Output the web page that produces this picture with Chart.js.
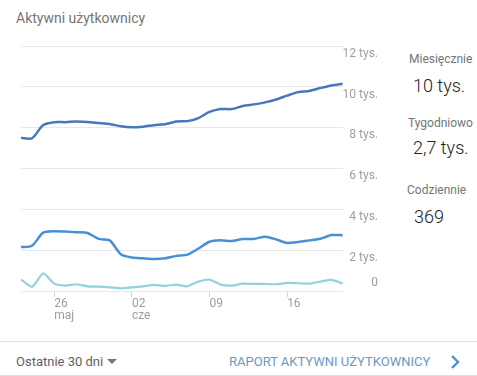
<!DOCTYPE html>
<html><head><meta charset="utf-8">
<script src="https://cdn.jsdelivr.net/npm/chart.js@4.4.1/dist/chart.umd.min.js"></script>
<style>
html,body{margin:0;padding:0;background:#fff;width:477px;height:376px;overflow:hidden;font-family:Roboto,"Noto Sans",sans-serif;}
.abs{position:absolute;white-space:nowrap;}
#wrap{position:absolute;left:0;top:0;width:380px;height:330px;}
.lbl{font-size:12px;color:#757575;line-height:16px;}
.val{font-size:18px;font-weight:300;color:#212121;line-height:22px;}
</style></head>
<body>
<div class="abs" style="left:16px;top:8px;font-size:14px;line-height:20px;color:#757575;">Aktywni użytkownicy</div>
<div id="wrap"><canvas id="c"></canvas></div>

<div class="abs lbl" style="left:409px;top:51px;">Miesięcznie</div>
<div class="abs val" style="left:413px;top:75px;">10 tys.</div>
<div class="abs lbl" style="left:408px;top:115px;">Tygodniowo</div>
<div class="abs val" style="left:413px;top:137px;">2,7 tys.</div>
<div class="abs lbl" style="left:407px;top:182px;">Codziennie</div>
<div class="abs val" style="left:414px;top:206px;">369</div>

<div class="abs" style="left:0;top:341px;width:477px;height:1px;background:#e0e0e0;"></div>
<div class="abs" style="left:16px;top:353px;font-size:13px;line-height:18px;color:#616161;">Ostatnie 30 dni</div>
<div class="abs" style="left:107px;top:359px;width:0;height:0;border-left:5px solid transparent;border-right:5px solid transparent;border-top:5px solid #757575;"></div>
<div class="abs" style="left:229px;top:353px;font-size:13px;line-height:18px;color:#6a9ac4;">RAPORT AKTYWNI UŻYTKOWNICY</div>
<svg class="abs" style="left:448px;top:354px;" width="14" height="16"><path d="M4 2 L10 8 L4 14" fill="none" stroke="#4a90d6" stroke-width="2.4"/></svg>
<div class="abs" style="left:0;top:375px;width:477px;height:1px;background:#e0e0e0;"></div>

<script>
const dates = ["23 maj","24 maj","25 maj","26 maj","27 maj","28 maj","29 maj","30 maj","31 maj","01 cze","02 cze","03 cze","04 cze","05 cze","06 cze","07 cze","08 cze","09 cze","10 cze","11 cze","12 cze","13 cze","14 cze","15 cze","16 cze","17 cze","18 cze","19 cze","20 cze","21 cze"];
const xTickLabels = {3:["26","maj"],10:["02","cze"],17:["09"],24:["16"]};
const monthly = [7500,7480,8130,8270,8270,8300,8280,8230,8180,8070,8020,8050,8120,8170,8300,8320,8470,8770,8910,8910,9060,9140,9240,9380,9570,9740,9800,9940,10070,10150];
const weekly = [2150,2220,2860,2930,2910,2880,2840,2550,2480,1800,1640,1600,1570,1600,1720,1780,2080,2410,2480,2450,2550,2550,2660,2530,2350,2400,2480,2560,2740,2730];
const daily = [560,200,860,360,265,330,230,215,180,130,180,230,300,250,315,230,460,560,315,265,360,347,347,330,397,380,360,460,545,369];
const yTicks = [0,2000,4000,6000,8000,10000,12000];
const yTickText = v => v === 0 ? "0" : (v/1000) + " tys.";

new Chart(document.getElementById('c'), {
  type: 'line',
  data: {
    labels: dates,
    datasets: [
      {data: monthly, borderColor:'#4678be', borderWidth:2.5, pointRadius:0, tension:0.25, fill:false},
      {data: weekly, borderColor:'#4890d6', borderWidth:2.5, pointRadius:0, tension:0.25, fill:false},
      {data: daily, borderColor:'#92d2de', borderWidth:2.2, pointRadius:0, tension:0.2, fill:false}
    ]
  },
  options: {
    responsive:true, maintainAspectRatio:false, animation:false,
    layout:{padding:{left:21, top:46, right:2, bottom:7}},
    plugins:{legend:{display:false}, tooltip:{enabled:false}},
    scales:{
      x:{
        offset:false,
        border:{display:false},
        grid:{drawOnChartArea:false, drawTicks:true, tickLength:6,
          color: ctx => (xTickLabels[ctx.index] ? '#d6d6d6' : 'rgba(0,0,0,0)')},
        ticks:{autoSkip:false, maxRotation:0, align:'start', padding:1,
          color:'#9e9e9e', font:{family:'Roboto', size:12, lineHeight:1.0},
          callback:(v,i)=> xTickLabels[i] || ''}
      },
      y:{
        position:'right', min:0, max:12000,
        afterBuildTicks: s => { s.ticks = yTicks.map(v=>({value:v})); },
        border:{display:false},
        grid:{color:'#e8e8e8', drawTicks:false, lineWidth:1},
        ticks:{crossAlign:'far', padding:0, color:'#9e9e9e',
          font:{family:'Roboto', size:12, lineHeight:1.3},
          callback: v => v === 0 ? ["0",""] : ["", yTickText(v)]}
      }
    }
  }
});
</script>
</body></html>
